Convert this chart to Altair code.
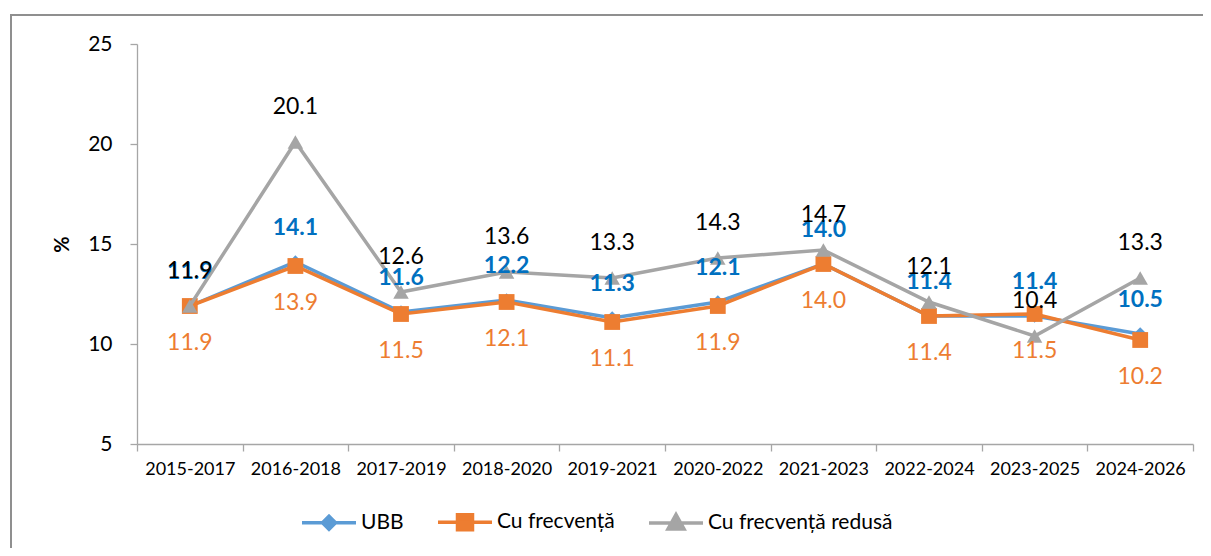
import altair as alt
import pandas as pd

categories = ["2015-2017", "2016-2018", "2017-2019", "2018-2020", "2019-2021",
              "2020-2022", "2021-2023", "2022-2024", "2023-2025", "2024-2026"]
ubb = [11.9, 14.1, 11.6, 12.2, 11.3, 12.1, 14.0, 11.4, 11.4, 10.5]
cu_frecventa = [11.9, 13.9, 11.5, 12.1, 11.1, 11.9, 14.0, 11.4, 11.5, 10.2]
cu_frecventa_redusa = [11.9, 20.1, 12.6, 13.6, 13.3, 14.3, 14.7, 12.1, 10.4, 13.3]

series_names = ["UBB", "Cu frecvență", "Cu frecvență redusă"]
series_values = [ubb, cu_frecventa, cu_frecventa_redusa]
series_colors = ["#5B9BD5", "#ED7D31", "#A5A5A5"]
series_shapes = ["diamond", "square", "triangle-up"]
shape_sizes = [180, 250, 240]
label_colors = ["#0070C0", "#ED7D31", "#000000"]
label_weights = ["bold", "normal", "normal"]
label_dy = [-34, 37, -35]

legend_paths = [
    "M-2.7,0L2.7,0M0,-0.65L0.65,0L0,0.65L-0.65,0Z",
    "M-2.7,0L2.7,0M-0.75,-0.75L0.75,-0.75L0.75,0.75L-0.75,0.75Z",
    "M-2.7,0L2.7,0M0,-0.85L0.8,0.6L-0.8,0.6Z",
]

rows = []
for name, vals in zip(series_names, series_values):
    for c, v in zip(categories, vals):
        rows.append({"period": c, "series": name, "value": v})
df = pd.DataFrame(rows)

FONT = "Lato"
base = alt.Chart(df)

x_enc = alt.X("period:N", sort=categories, title=None,
              axis=alt.Axis(labelAngle=0, labelFont=FONT, labelFontSize=18,
                            labelColor="#000", tickBand="extent", tickSize=7,
                            labelPadding=9, domainColor="#A6A6A6",
                            tickColor="#A6A6A6", domainWidth=1.3, tickWidth=1.3))
y_enc = alt.Y("value:Q", scale=alt.Scale(domain=[5, 25], nice=False, zero=False),
              title="%",
              axis=alt.Axis(values=[5, 10, 15, 20, 25], grid=False,
                            labelFont=FONT, labelFontSize=21, labelColor="#000",
                            tickSize=7, labelPadding=18, domainColor="#A6A6A6",
                            tickColor="#A6A6A6", domainWidth=1.3, tickWidth=1.3,
                            titleFont=FONT, titleFontSize=20, titleFontWeight="bold",
                            titleColor="#000", titleX=-75, titleY=200,
                            titleAngle=270, titleAlign="center",
                            titleBaseline="middle"))

frame = alt.Chart(pd.DataFrame({"a": [0]})).mark_rect(
    fill=None, stroke="#8f8f8f", strokeWidth=2
).encode(x=alt.value(-126), x2=alt.value(1300), y=alt.value(-29), y2=alt.value(600))

layers = [frame]
for i, name in enumerate(series_names):
    sub = base.transform_filter(alt.datum.series == name)
    layers.append(sub.mark_line(color=series_colors[i], strokeWidth=3.5).encode(
        x=x_enc, y=y_enc))
    layers.append(sub.mark_point(filled=True, opacity=1, color=series_colors[i],
                                 shape=series_shapes[i], size=shape_sizes[i]).encode(
        x=x_enc, y=y_enc))

for i in [0, 2, 1]:
    name = series_names[i]
    sub = base.transform_filter(alt.datum.series == name)
    layers.append(sub.mark_text(font=FONT, fontSize=23, fontWeight=label_weights[i],
                                color=label_colors[i], dy=label_dy[i],
                                baseline="middle").encode(
        x=x_enc, y=y_enc, text=alt.Text("value:Q", format=".1f")))

legend_def = dict(title=None, orient="none", legendX=153, legendY=466,
                  direction="horizontal", labelFont=FONT, labelFontSize=21,
                  labelColor="#000", labelLimit=0, symbolSize=400,
                  symbolStrokeWidth=3.5, symbolOffset=27, labelOffset=20,
                  columnPadding=22, symbolOpacity=1)

# legend-only layer (no data rows drawn)
ghost = base.transform_filter("false").mark_point(
    filled=True, opacity=1, strokeWidth=3.5, size=400
).encode(
    x=x_enc, y=y_enc,
    color=alt.Color("series:N", scale=alt.Scale(domain=series_names, range=series_colors),
                    legend=alt.Legend(**legend_def)),
    stroke=alt.Stroke("series:N", scale=alt.Scale(domain=series_names, range=series_colors),
                      legend=alt.Legend(**legend_def)),
    shape=alt.Shape("series:N", scale=alt.Scale(domain=series_names, range=legend_paths),
                    legend=alt.Legend(**legend_def)),
)
layers.append(ghost)

chart = alt.layer(*layers).properties(
    width=1056, height=400,
    autosize=alt.AutoSizeParams(type="none"),
    padding={"left": 129, "top": 36, "right": 10, "bottom": 104},
    background="white",
).configure_view(stroke=None)

chart.save("out.html", embed_options={"renderer": "svg", "actions": False})
